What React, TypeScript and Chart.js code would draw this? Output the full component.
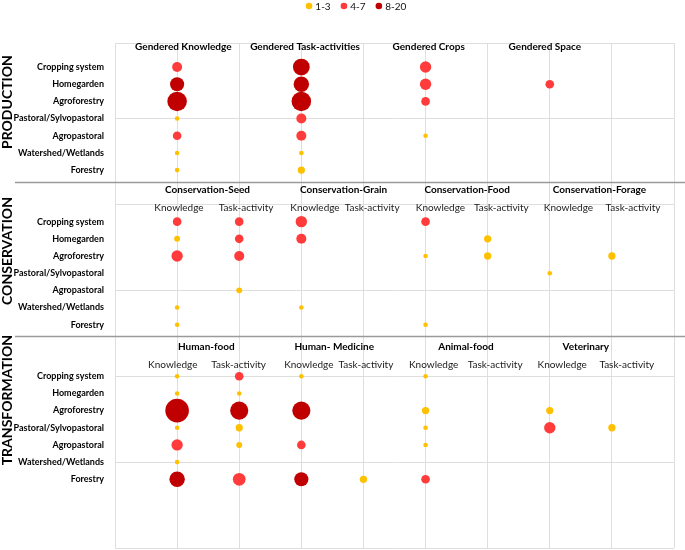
import React, { useEffect, useRef } from 'react';
import { Chart, registerables } from 'chart.js';

Chart.register(...registerables);

// ---------- DATA ----------
const ROWS = [
  'Cropping system',
  'Homegarden',
  'Agroforestry',
  'Pastoral/Sylvopastoral',
  'Agropastoral',
  'Watershed/Wetlands',
  'Forestry',
];

const SECTION_NAMES = ['PRODUCTION', 'CONSERVATION', 'TRANSFORMATION'];

const LEGEND_CLASSES = ['1-3', '4-7', '8-20'];
const CLASS_MAX = [3, 7, 20];

// Production
const PRODUCTION_HEADERS = ['Gendered Knowledge', 'Gendered Task-activities', 'Gendered Crops', 'Gendered Space'];
const GENDERED_KNOWLEDGE = [5, 8, 12, 1, 4, 1, 1];
const GENDERED_TASKS = [10, 9, 12, 5, 5, 1, 3];
const GENDERED_CROPS = [6, 6, 4, 0, 1, 0, 0];
const GENDERED_SPACE = [0, 4, 0, 0, 0, 0, 0];

// Conservation
const CONSERVATION_HEADERS = ['Conservation-Seed', 'Conservation-Grain', 'Conservation-Food', 'Conservation-Forage'];
const SEED_KNOWLEDGE = [4, 2, 6, 0, 0, 1, 1];
const SEED_TASK = [4, 4, 5, 0, 2, 0, 0];
const GRAIN_KNOWLEDGE = [6, 5, 0, 0, 0, 1, 0];
const GRAIN_TASK = [0, 0, 0, 0, 0, 0, 0];
const FOOD_KNOWLEDGE = [4, 0, 1, 0, 0, 0, 1];
const FOOD_TASK = [0, 3, 3, 0, 0, 0, 0];
const FORAGE_KNOWLEDGE = [0, 0, 0, 1, 0, 0, 0];
const FORAGE_TASK = [0, 0, 3, 0, 0, 0, 0];

// Transformation
const TRANSFORMATION_HEADERS = ['Human-food', 'Human- Medicine', 'Animal-food', 'Veterinary'];
const HUMAN_FOOD_KNOWLEDGE = [1, 1, 15, 1, 6, 1, 9];
const HUMAN_FOOD_TASK = [4, 1, 11, 3, 2, 0, 7];
const MEDICINE_KNOWLEDGE = [1, 0, 11, 0, 4, 0, 8];
const MEDICINE_TASK = [0, 0, 0, 0, 0, 0, 3];
const ANIMAL_FOOD_KNOWLEDGE = [1, 0, 3, 1, 1, 0, 4];
const ANIMAL_FOOD_TASK = [0, 0, 0, 0, 0, 0, 0];
const VET_KNOWLEDGE = [0, 0, 3, 6, 0, 0, 0];
const VET_TASK = [0, 0, 0, 3, 0, 0, 0];

const SUB_HEADERS = ['Knowledge', 'Task-activity'];

const SECTION_SERIES = [
  [GENDERED_KNOWLEDGE, GENDERED_TASKS, GENDERED_CROPS, GENDERED_SPACE],
  [SEED_KNOWLEDGE, SEED_TASK, GRAIN_KNOWLEDGE, GRAIN_TASK, FOOD_KNOWLEDGE, FOOD_TASK, FORAGE_KNOWLEDGE, FORAGE_TASK],
  [HUMAN_FOOD_KNOWLEDGE, HUMAN_FOOD_TASK, MEDICINE_KNOWLEDGE, MEDICINE_TASK, ANIMAL_FOOD_KNOWLEDGE, ANIMAL_FOOD_TASK, VET_KNOWLEDGE, VET_TASK],
];
const SECTION_HEADERS = [PRODUCTION_HEADERS, CONSERVATION_HEADERS, TRANSFORMATION_HEADERS];

// ---------- LAYOUT / STYLE ----------
const CLASS_COLORS = ['#FFC000', '#FF3B3B', '#C00000'];
const FONT = 'Lato, "Open Sans", sans-serif';
const Y_MAX = 29.4;
const X_MAX = 9;
const SECTION_FIRST_ROW = [28, 19, 10];
const SECTION_COL_X = [
  [1, 3, 5, 7],
  [1, 2, 3, 4, 5, 6, 7, 8],
  [1, 2, 3, 4, 5, 6, 7, 8],
];
const HEADER_Y = [29.18, 20.84, 11.7];
const HEADER_X = [
  [1.1, 3.06, 5.05, 6.92],
  [1.49, 3.68, 5.67, 7.8],
  [1.47, 3.53, 5.65, 7.58],
];
const SUB_Y = [null, 19.79, 10.65];
const SUB_X = [
  null,
  [1.03, 2.11, 3.22, 4.14, 5.24, 6.22, 7.3, 8.34],
  [0.93, 1.99, 3.12, 4.04, 5.13, 6.12, 7.2, 8.24],
];
const SEPARATOR_Y = [21.3, 12.34];
const SECTION_LABEL_Y = [25.96, 17.29, 8.61];

const radiusOf = (v: number) => 1.6 + 0.68 * v;
const classOf = (v: number) => CLASS_MAX.findIndex((m) => v <= m);

function rowLabel(value: number): string {
  for (let s = 0; s < SECTION_FIRST_ROW.length; s++) {
    const i = SECTION_FIRST_ROW[s] - value;
    if (Number.isInteger(i) && i >= 0 && i < ROWS.length) return ROWS[i];
  }
  return '';
}

function buildDatasets() {
  const buckets: any[][] = LEGEND_CLASSES.map(() => []);
  SECTION_SERIES.forEach((cols, s) => {
    cols.forEach((vals, c) => {
      vals.forEach((v, i) => {
        if (!v) return;
        buckets[classOf(v)].push({ x: SECTION_COL_X[s][c], y: SECTION_FIRST_ROW[s] - i, r: radiusOf(v), v });
      });
    });
  });
  return LEGEND_CLASSES.map((label, k) => ({
    label,
    data: buckets[k],
    backgroundColor: CLASS_COLORS[k],
    borderWidth: 0,
    hoverBorderWidth: 0,
    hoverRadius: 0,
  }));
}

const annotationsPlugin = {
  id: 'annotations',
  afterDraw(chart: any) {
    const { ctx, scales } = chart;
    const xs = scales.x;
    const ys = scales.y;
    ctx.save();

    // separators
    ctx.strokeStyle = '#9a9a9a';
    ctx.lineWidth = 1.5;
    SEPARATOR_Y.forEach((v) => {
      const py = Math.round(ys.getPixelForValue(v)) + 0.5;
      ctx.beginPath();
      ctx.moveTo(15, py);
      ctx.lineTo(chart.width, py);
      ctx.stroke();
    });

    ctx.fillStyle = '#000';
    ctx.textAlign = 'center';
    ctx.textBaseline = 'middle';

    // headers
    ctx.font = `bold 10px ${FONT}`;
    SECTION_HEADERS.forEach((hs, s) => {
      hs.forEach((h, k) => {
        ctx.fillText(h, xs.getPixelForValue(HEADER_X[s][k]), ys.getPixelForValue(HEADER_Y[s]));
      });
    });

    // sub headers
    ctx.font = `10px ${FONT}`;
    ctx.fillStyle = '#1a1a1a';
    SUB_X.forEach((arr, s) => {
      if (!arr) return;
      arr.forEach((xv, k) => {
        ctx.fillText(SUB_HEADERS[k % 2], xs.getPixelForValue(xv), ys.getPixelForValue(SUB_Y[s] as number));
      });
    });

    // section labels (vertical)
    ctx.fillStyle = '#000';
    ctx.font = `bold 14px ${FONT}`;
    SECTION_NAMES.forEach((name, s) => {
      ctx.save();
      ctx.translate(7, ys.getPixelForValue(SECTION_LABEL_Y[s]));
      ctx.rotate(-Math.PI / 2);
      ctx.fillText(name, 0, 0);
      ctx.restore();
    });

    // legend
    ctx.font = `10px ${FONT}`;
    ctx.textAlign = 'left';
    const dotR = 3.3;
    const gap = 3;
    const spacing = 10;
    const widths = chart.data.datasets.map((d: any) => ctx.measureText(d.label).width);
    const total = widths.reduce((a: number, w: number) => a + dotR * 2 + gap + w, 0) + spacing * (widths.length - 1);
    let x = 356 - total / 2;
    const ly = 6;
    chart.data.datasets.forEach((d: any, k: number) => {
      ctx.fillStyle = d.backgroundColor;
      ctx.beginPath();
      ctx.arc(x + dotR, ly, dotR, 0, Math.PI * 2);
      ctx.fill();
      ctx.fillStyle = '#111';
      ctx.fillText(d.label, x + dotR * 2 + gap, ly + 0.5);
      x += dotR * 2 + gap + widths[k] + spacing;
    });

    ctx.restore();
  },
};

export default function App() {
  const canvasRef = useRef<HTMLCanvasElement | null>(null);

  useEffect(() => {
    if (!canvasRef.current) return;
    const chart = new Chart(canvasRef.current, {
      type: 'bubble',
      data: { datasets: buildDatasets() as any },
      options: {
        responsive: true,
        maintainAspectRatio: false,
        animation: false,
        events: [],
        layout: { autoPadding: false, padding: { top: 43, right: 11, bottom: 2, left: 0 } },
        plugins: {
          legend: { display: false },
          tooltip: { enabled: false },
        },
        scales: {
          x: {
            type: 'linear',
            min: 0,
            max: X_MAX,
            ticks: { display: false, stepSize: 1 },
            grid: { color: '#dedede', lineWidth: 1, drawTicks: false },
            border: { display: false },
            afterFit: (s: any) => {
              s.height = 0;
              s.paddingLeft = 0;
              s.paddingRight = 0;
            },
          },
          y: {
            type: 'linear',
            min: 0,
            max: Y_MAX,
            afterBuildTicks: (s: any) => {
              const t = [];
              for (let v = 0; v < 30; v++) t.push({ value: v });
              t.push({ value: Y_MAX });
              s.ticks = t;
            },
            ticks: {
              autoSkip: false,
              padding: 11,
              color: '#000',
              font: { family: FONT, weight: 'bold', size: 9 },
              callback: (v: any) => rowLabel(Number(v)),
            },
            grid: {
              drawTicks: false,
              lineWidth: 1,
              color: (c: any) => {
                const v = c.tick ? c.tick.value : 0;
                return v % 5 === 0 || v === Y_MAX ? '#dedede' : 'rgba(0,0,0,0)';
              },
            },
            border: { display: false },
            afterFit: (s: any) => {
              s.width = 115;
              s.paddingTop = 0;
              s.paddingBottom = 0;
            },
          },
        },
      } as any,
      plugins: [annotationsPlugin],
    });
    return () => chart.destroy();
  }, []);

  return (
    <div style={{ position: 'fixed', left: 0, top: 0, width: 685, height: 550, background: '#fff' }}>
      <canvas ref={canvasRef} />
    </div>
  );
}
